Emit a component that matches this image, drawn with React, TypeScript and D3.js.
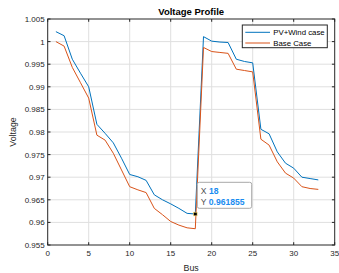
import * as d3 from 'd3'

const buses = d3.range(1, 34)
const pvWind = [
    1.0022, 1.0013, 0.9961, 0.993, 0.99, 0.9817, 0.9797, 0.9776, 0.9742, 0.9706, 0.9701,
    0.9693, 0.9661, 0.965, 0.9641, 0.9631, 0.962, 0.961855, 1.0011, 1.0001, 0.9999,
    0.9998, 0.9961, 0.9956, 0.9953, 0.9806, 0.9796, 0.9756, 0.9731, 0.972, 0.97,
    0.9697, 0.9694,
]
const baseCase = [
    1.0, 0.999, 0.9943, 0.9909, 0.9875, 0.9793, 0.9782, 0.9753, 0.9716, 0.9679, 0.9672,
    0.9666, 0.9631, 0.9617, 0.9602, 0.9594, 0.9588, 0.9586, 0.9987, 0.9978, 0.9976,
    0.9974, 0.9939, 0.9936, 0.9933, 0.9784, 0.9771, 0.9734, 0.9709, 0.9698, 0.9679,
    0.9675, 0.9673,
]
const xTicks = [0, 5, 10, 15, 20, 25, 30, 35]
const yTicks = [0.955, 0.96, 0.965, 0.97, 0.975, 0.98, 0.985, 0.99, 0.995, 1, 1.005]
const seriesNames = ['PV+Wind case', 'Base Case']
const colors = ['#0072bd', '#d95319']
const tipBus = 18
const tipValue = 0.961855

const W = 339
const H = 273
const m = { left: 47.7, right: 4.3, top: 19, bottom: 28 }

export default function App() {
    const x = d3.scaleLinear().domain([0, 35]).range([m.left, W - m.right])
    const y = d3.scaleLinear().domain([0.955, 1.005]).range([H - m.bottom, m.top])
    const line = d3
        .line<number>()
        .x((d, i) => x(buses[i]))
        .y(d => y(d))
    const font = 'Liberation Sans, Arial, Helvetica, sans-serif'
    const x0 = x(0), x1 = x(35), y0 = y(0.955), y1 = y(1.005)
    const tk = 2.8
    const tx = x(tipBus), ty = y(tipValue)

    return (
        <svg
            width={W}
            height={H}
            style={{ position: 'absolute', left: 0, top: 0, background: '#fff' }}
            fontFamily={font}
        >
            <rect x={x0} y={y1} width={x1 - x0} height={y0 - y1} fill="#fff" />
            {/* grid */}
            <g stroke="#dfdfdf" strokeWidth={1}>
                {xTicks.slice(1, -1).map(t => (
                    <line key={'gx' + t} x1={x(t)} x2={x(t)} y1={y1} y2={y0} />
                ))}
                {yTicks.slice(1, -1).map(t => (
                    <line key={'gy' + t} x1={x0} x2={x1} y1={y(t)} y2={y(t)} />
                ))}
            </g>
            {/* series */}
            {[pvWind, baseCase].map((s, i) => (
                <path key={i} d={line(s) || ''} fill="none" stroke={colors[i]} strokeWidth={1} />
            ))}
            {/* box + ticks */}
            <g stroke="#262626" strokeWidth={1} fill="none">
                <rect x={x0} y={y1} width={x1 - x0} height={y0 - y1} />
                {xTicks.map(t => (
                    <g key={'tx' + t}>
                        <line x1={x(t)} x2={x(t)} y1={y0} y2={y0 - tk} />
                        <line x1={x(t)} x2={x(t)} y1={y1} y2={y1 + tk} />
                    </g>
                ))}
                {yTicks.map(t => (
                    <g key={'ty' + t}>
                        <line x1={x0} x2={x0 + tk} y1={y(t)} y2={y(t)} />
                        <line x1={x1} x2={x1 - tk} y1={y(t)} y2={y(t)} />
                    </g>
                ))}
            </g>
            <g fontSize={8} fill="#262626">
                {xTicks.map(t => (
                    <text key={'lx' + t} x={x(t)} y={y0 + 11} textAnchor="middle">
                        {t}
                    </text>
                ))}
                {yTicks.map(t => (
                    <text key={'ly' + t} x={x0 - 3} y={y(t) + 3} textAnchor="end">
                        {d3.format('~g')(t)}
                    </text>
                ))}
            </g>
            <text x={(x0 + x1) / 2} y={14.5} fontSize={9.5} fontWeight="bold" textAnchor="middle" fill="#000">
                Voltage Profile
            </text>
            <text x={(x0 + x1) / 2} y={271} fontSize={8.8} textAnchor="middle" fill="#262626">
                Bus
            </text>
            <text
                transform={`translate(16,${(y0 + y1) / 2}) rotate(-90)`}
                fontSize={8.8}
                textAnchor="middle"
                fill="#262626"
            >
                Voltage
            </text>
            {/* legend */}
            <g>
                <rect x={242.3} y={25} width={85} height={22.7} fill="#fff" stroke="#262626" strokeWidth={1} />
                {seriesNames.map((n, i) => (
                    <g key={n}>
                        <line x1={245.3} x2={270} y1={32.3 + i * 10.7} y2={32.3 + i * 10.7} stroke={colors[i]} strokeWidth={1} />
                        <text x={273.3} y={35.2 + i * 10.7} fontSize={7.8} fill="#000">
                            {n}
                        </text>
                    </g>
                ))}
            </g>
            {/* datatip */}
            <g>
                <rect x={197.3} y={182.3} width={54.4} height={26} rx={2} fill="#fff" fillOpacity={0.95} stroke="#a8a8a8" strokeWidth={1} />
                <text x={200.8} y={194.2} fontSize={8.6} fill="#505050">
                    X <tspan fill="#1a8cf0" fontWeight="bold">{tipBus}</tspan>
                </text>
                <text x={200.8} y={204.6} fontSize={8.6} fill="#505050">
                    Y <tspan fill="#1a8cf0" fontWeight="bold">{tipValue}</tspan>
                </text>
                <rect x={tx - 1.8} y={ty - 1.8} width={3.6} height={3.6} fill="#000" stroke="#ffe070" strokeWidth={0.6} />
            </g>
        </svg>
    )
}
